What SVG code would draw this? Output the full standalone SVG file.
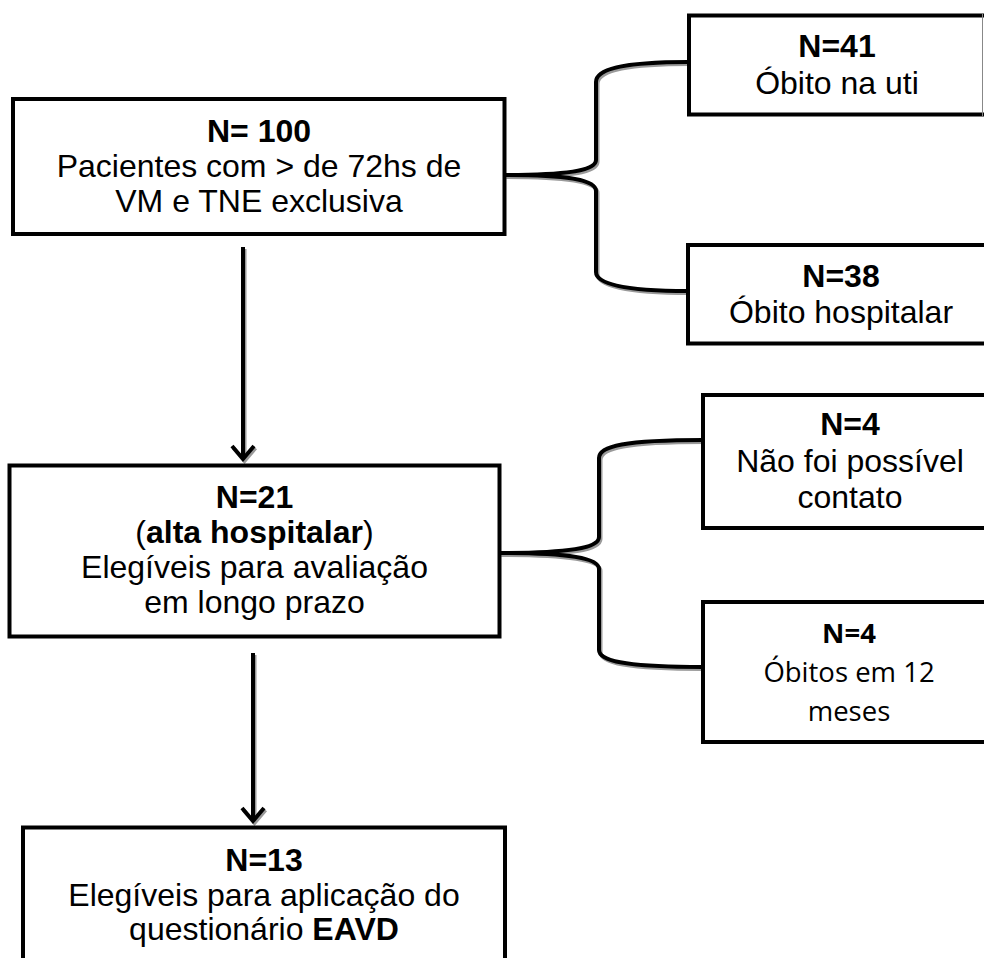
<svg xmlns="http://www.w3.org/2000/svg" width="984" height="958" viewBox="0 0 984 958">
<style>
.box{fill:#fff;stroke:#000;stroke-width:4}
.t{font-family:"Liberation Sans",Arial,sans-serif;font-size:32px;fill:#000;text-anchor:middle}
.c{font-family:"Open Sans","Noto Sans",sans-serif;font-size:27.5px;fill:#000;text-anchor:middle}
.b{font-weight:bold}
.ln{fill:none;stroke:#000;stroke-width:4;stroke-linejoin:miter}
.sh{fill:none;stroke:#9a9a9a;stroke-width:4;stroke-linejoin:miter}
</style>
<rect width="984" height="958" fill="#fff"/>
<g id="connectors">
  <g transform="translate(1.5,2)">
    <path class="sh" d="M505,175 C570,175 596,170 596,160 L596,82 C596,70 620,62 688,62"/>
    <path class="sh" d="M505,175 C570,175 596,180 596,191 L596,272 C596,283 620,291 688,291"/>
    <path class="sh" d="M500,553 C570,553 599,548 599,537 L599,458 C599,446 625,440 703,440"/>
    <path class="sh" d="M500,553 C570,553 599,558 599,569 L599,650 C599,661 625,667 703,667"/>
    <path class="sh" d="M243,247 L243,457 M232,446 L243,459 L254,446"/>
    <path class="sh" d="M253,653 L253,819 M242,808 L253,821 L264,808"/>
  </g>
  <path class="ln" d="M505,175 C570,175 596,170 596,160 L596,82 C596,70 620,62 688,62"/>
  <path class="ln" d="M505,175 C570,175 596,180 596,191 L596,272 C596,283 620,291 688,291"/>
  <path class="ln" d="M500,553 C570,553 599,548 599,537 L599,458 C599,446 625,440 703,440"/>
  <path class="ln" d="M500,553 C570,553 599,558 599,569 L599,650 C599,661 625,667 703,667"/>
  <path class="ln" d="M243,247 L243,457 M232,446 L243,459 L254,446"/>
  <path class="ln" d="M253,653 L253,819 M242,808 L253,821 L264,808"/>
</g>
<g id="n100">
  <rect class="box" x="13" y="99" width="491.5" height="135"/>
  <text class="t b" x="259" y="142">N= 100</text>
  <text class="t" x="259" y="177">Pacientes com &gt; de 72hs de</text>
  <text class="t" x="259" y="212">VM e TNE exclusiva</text>
</g>
<g id="n41">
  <rect class="box" x="689" y="15.5" width="310" height="99"/>
  <line x1="982.5" y1="14" x2="982.5" y2="116" stroke="#888" stroke-width="1"/>
  <text class="t b" x="837" y="57">N=41</text>
  <text class="t" x="837" y="94">Óbito na uti</text>
</g>
<g id="n38">
  <rect class="box" x="688" y="245" width="310" height="98.5"/>
  <text class="t b" x="841" y="287">N=38</text>
  <text class="t" x="841" y="323">Óbito hospitalar</text>
</g>
<g id="n21">
  <rect class="box" x="9.5" y="465.5" width="490" height="171"/>
  <text class="t b" x="254.5" y="508">N=21</text>
  <text class="t" x="254.5" y="543">(<tspan class="b">alta hospitalar</tspan>)</text>
  <text class="t" x="254.5" y="578">Elegíveis para avaliação</text>
  <text class="t" x="254.5" y="613">em longo prazo</text>
</g>
<g id="n4a">
  <rect class="box" x="703" y="395" width="300" height="133"/>
  <text class="t b" x="850" y="435">N=4</text>
  <text class="t" x="850" y="472">Não foi possível</text>
  <text class="t" x="850" y="508">contato</text>
</g>
<g id="n4b">
  <rect class="box" x="703" y="602" width="300" height="140"/>
  <text class="c b" x="849" y="643">N=4</text>
  <text class="c" x="849" y="682">Óbitos em 12</text>
  <text class="c" x="849" y="721">meses</text>
</g>
<g id="n13">
  <rect class="box" x="23" y="827.5" width="482" height="160"/>
  <text class="t b" x="264" y="871">N=13</text>
  <text class="t" x="264" y="906">Elegíveis para aplicação do</text>
  <text class="t" x="264" y="940">questionário <tspan class="b">EAVD</tspan></text>
</g>
</svg>
